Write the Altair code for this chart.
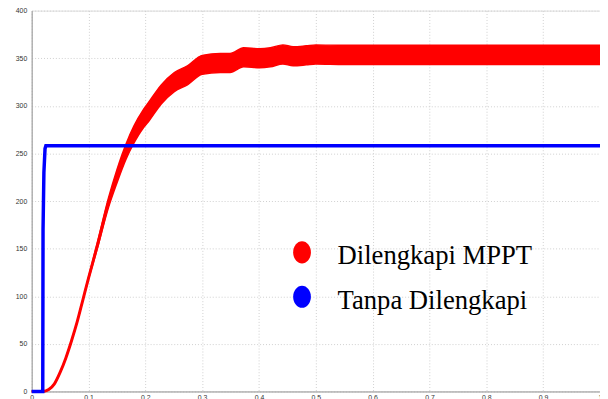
import altair as alt
import pandas as pd

# ---- data ----
red_t = [0.0, 0.02, 0.03, 0.04, 0.05, 0.06, 0.07, 0.08, 0.09, 0.1, 0.115, 0.135, 0.15,
         0.166, 0.18, 0.196, 0.205, 0.228, 0.251, 0.274, 0.3, 0.332, 0.349,
         0.373, 0.401, 0.42, 0.442, 0.46, 0.483, 0.5, 0.55, 0.6, 0.7, 0.8, 0.9, 1.0]
red_center = [0, 0, 2, 8, 20, 35, 53, 73, 96, 119, 152, 198, 226,
              252, 270, 286, 293, 312, 325, 332, 343, 345, 345,
              351, 350, 351, 354, 352, 353, 354, 353.5, 353.5, 353.5, 353.5, 353.5, 353.5]
red_half = [0, 0, 0, 0, 0, 0, 0, 0, 0, 1, 3, 5, 7,
            8, 9, 9.5, 10, 10, 10, 10, 10, 10, 10,
            10, 10, 10, 10, 10, 10, 10, 10, 10, 10, 10, 10, 10]

blue_t = [0.0, 0.0195, 0.0200, 0.0215, 0.0235, 0.025, 1.0]
blue_v = [0, 0, 170, 230, 255, 258, 258]

x_ticks = [0, 0.1, 0.2, 0.3, 0.4, 0.5, 0.6, 0.7, 0.8, 0.9, 1.0]
y_ticks = [0, 50, 100, 150, 200, 250, 300, 350, 400]

legend_labels = ["Dilengkapi MPPT", "Tanpa Dilengkapi"]
legend_colors = ["#ff0000", "#0000ff"]

# ---- tables ----
red_df = pd.DataFrame({
    "t": red_t,
    "v": red_center,
    "lo": [c - h for c, h in zip(red_center, red_half)],
    "hi": [c + h for c, h in zip(red_center, red_half)],
})
blue_df = pd.DataFrame({"t": blue_t, "v": blue_v})

x_scale = alt.Scale(domain=[0, 1], nice=False)
y_scale = alt.Scale(domain=[0, 400], nice=False)

x_axis = alt.Axis(values=x_ticks, format=".1~f", title=None, grid=True, ticks=False,
                  labelFontSize=7, labelColor="#333333", labelFont="Liberation Sans",
                  labelPadding=2, domainColor="#9a9a9a", gridColor="#cfcfcf",
                  gridDash=[1, 2], labelFlush=False)
y_axis = alt.Axis(values=y_ticks, format="d", title=None, grid=True, ticks=False,
                  labelFontSize=7, labelColor="#333333", labelFont="Liberation Sans",
                  labelPadding=5, domainColor="#9a9a9a", gridColor="#cfcfcf",
                  gridDash=[1, 2])

band = alt.Chart(red_df).mark_area(color=legend_colors[0], stroke=legend_colors[0],
                                   strokeWidth=1.5, opacity=1, interpolate="monotone").encode(
    x=alt.X("t:Q", scale=x_scale, axis=x_axis),
    y=alt.Y("lo:Q", scale=y_scale, axis=y_axis),
    y2="hi:Q",
)
red_line = alt.Chart(red_df).mark_line(color=legend_colors[0], strokeWidth=3,
                                       interpolate="monotone").encode(
    x=alt.X("t:Q", scale=x_scale),
    y=alt.Y("v:Q", scale=y_scale),
)
blue_line = alt.Chart(blue_df).mark_line(color=legend_colors[1], strokeWidth=3.5).encode(
    x=alt.X("t:Q", scale=x_scale),
    y=alt.Y("v:Q", scale=y_scale),
)

ellipse = "M0,-1.25A1,1.25,0,1,1,0,1.25A1,1.25,0,1,1,0,-1.25Z"
legend_layers = []
for i, (lab, col) in enumerate(zip(legend_labels, legend_colors)):
    d = pd.DataFrame({"label": [lab]})
    yy = 245 + 45 * i
    legend_layers.append(
        alt.Chart(d).mark_point(shape=ellipse, size=324, filled=True, color=col, opacity=1).encode(
            x=alt.value(274), y=alt.value(yy))
    )
    legend_layers.append(
        alt.Chart(d).mark_text(align="left", baseline="alphabetic", font="Liberation Serif",
                               fontSize=27, color="#000000").encode(
            x=alt.value(310), y=alt.value(yy + 12), text="label:N")
    )

chart = alt.layer(band, red_line, blue_line, *legend_layers).properties(
    width=576, height=386,
    autosize=alt.AutoSizeParams(type="none"),
    padding={"left": 24, "top": 0, "right": 0, "bottom": 5},
).configure_view(stroke="#9a9a9a", strokeWidth=1).configure(background="white")

chart.save("out.html", embed_options={"renderer": "svg", "actions": False})
